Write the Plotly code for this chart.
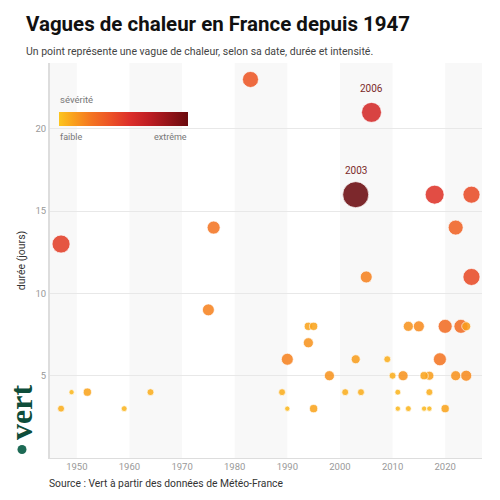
import numpy as np
import plotly.graph_objects as go

annees = [1947, 1947, 1949, 1952, 1959, 1964, 1975, 1976, 1983, 1989, 1990, 1990,
          1994, 1994, 1995, 1995, 1998, 2001, 2003, 2003, 2004, 2005, 2006, 2009,
          2010, 2011, 2011, 2012, 2013, 2013, 2015, 2016, 2016, 2017, 2017, 2017,
          2018, 2019, 2020, 2020, 2022, 2022, 2023, 2024, 2024, 2025, 2025]
durees = [13, 3, 4, 4, 3, 4, 9, 14, 23, 4, 6, 3,
          7, 8, 8, 3, 5, 4, 6, 16, 4, 11, 21, 6,
          5, 4, 3, 5, 3, 8, 8, 5, 3, 5, 4, 3,
          16, 6, 8, 3, 14, 5, 8, 8, 5, 16, 11]
severite = [48, 7, 4, 10, 5, 7, 21, 25, 38, 7, 21, 4,
            15, 10, 10, 10, 15, 7, 12, 100, 7, 21, 59, 7,
            7, 5, 4, 15, 5, 15, 18, 10, 4, 12, 7, 4,
            53, 25, 29, 10, 33, 15, 29, 12, 18, 43, 43]

annotes = [(2003, 16, "2003"), (2006, 21, "2006")]
decennies_grises = [1940, 1960, 1980, 2000, 2020]
x_ticks = [1950, 1960, 1970, 1980, 1990, 2000, 2010, 2020]
y_ticks = [5, 10, 15, 20]

colorscale = [[0.0, "#fcc51f"], [0.1, "#faa41c"], [0.25, "#f47522"],
              [0.4, "#ec5226"], [0.55, "#dc2e2a"], [0.7, "#be1d23"], [1.0, "#6a0a0e"]]

order = np.argsort(-np.array(severite), kind="stable")
xs = np.array(annees)[order]
ys = np.array(durees)[order]
ss = np.array(severite)[order]

W, H = 500, 500
ML, MR, MT, MB = 50, 18, 63, 42
L, R, T, B = ML, W - MR, MT, H - MB
def px(x):
    return (x - L) / (R - L)
def py(y):
    return (B - y) / (B - T)

XR = [1944.9, 2027]

fig = go.Figure()
fig.add_trace(go.Scatter(
    x=xs, y=ys, mode="markers",
    marker=dict(size=ss, sizemode="area", sizeref=0.296, sizemin=2.5,
                color=ss, cmin=0, cmax=100, colorscale=colorscale,
                opacity=0.87, line=dict(width=1, color="rgba(255,255,255,0.7)"),
                showscale=True,
                colorbar=dict(orientation="h", lenmode="pixels", len=129,
                              thickness=14, x=px(59), xanchor="left",
                              y=py(112), yanchor="top", xpad=0, ypad=0,
                              outlinewidth=0, showticklabels=False, ticks="")),
    hoverinfo="skip", showlegend=False))

shapes = []
for d in decennies_grises:
    shapes.append(dict(type="rect", xref="x", yref="paper",
                       x0=max(d, XR[0]), x1=min(d + 10, XR[1]), y0=0, y1=1,
                       fillcolor="#f8f8f8", line=dict(width=0), layer="below"))
# logo dot
shapes.append(dict(type="circle", xref="paper", yref="paper",
                   x0=px(17.5), x1=px(26.5), y0=py(454), y1=py(445),
                   fillcolor="#1d6a55", line=dict(width=0)))

annotations = [
    dict(text="<b>Vagues de chaleur en France depuis 1947</b>", xref="paper", yref="paper",
         x=px(24), y=py(24), xanchor="left", yanchor="middle", showarrow=False,
         font=dict(family="Roboto", size=20.5, color="#111111")),
    dict(text="Un point représente une vague de chaleur, selon sa date, durée et intensité.",
         xref="paper", yref="paper", x=px(24), y=py(51), xanchor="left", yanchor="middle",
         showarrow=False, font=dict(family="Roboto", size=10.5, color="#444444")),
    dict(text="Source : Vert à partir des données de Météo-France", xref="paper", yref="paper",
         x=px(47), y=py(484), xanchor="left", yanchor="middle", showarrow=False,
         font=dict(family="Roboto", size=10.3, color="#333333")),
    dict(text="sévérité", xref="paper", yref="paper", x=px(58), y=py(99),
         xanchor="left", yanchor="middle", showarrow=False,
         font=dict(family="Roboto", size=9.5, color="#777777")),
    dict(text="faible", xref="paper", yref="paper", x=px(58), y=py(137),
         xanchor="left", yanchor="middle", showarrow=False,
         font=dict(family="Roboto", size=9, color="#777777")),
    dict(text="extrême", xref="paper", yref="paper", x=px(189), y=py(137),
         xanchor="right", yanchor="middle", showarrow=False,
         font=dict(family="Roboto", size=9, color="#777777")),
    dict(text="<b>vert</b>", xref="paper", yref="paper", x=px(21), y=py(412),
         xanchor="center", yanchor="middle", textangle=-90, showarrow=False,
         font=dict(family="Liberation Serif", size=32, color="#0e4d3a")),
]
for ax_, ay_, t in annotes:
    annotations.append(dict(text=t, x=ax_, y=ay_, xref="x", yref="y", showarrow=False,
                            yshift=24, font=dict(family="Roboto", size=10, color="#7b2a2a")))

fig.update_layout(
    width=W, height=H, margin=dict(l=ML, r=MR, t=MT, b=MB),
    paper_bgcolor="white", plot_bgcolor="white",
    font=dict(family="Roboto"),
    shapes=shapes, annotations=annotations,
    xaxis=dict(range=XR, tickvals=x_ticks, showgrid=False, zeroline=False,
               showline=True, linecolor="#dddddd", linewidth=1, ticks="",
               tickfont=dict(size=9.5, color="#999999")),
    yaxis=dict(range=[0, 24], tickvals=y_ticks, showgrid=True, gridcolor="#e8e8e8",
               zeroline=False, showline=True, linecolor="#dddddd", linewidth=2, ticks="",
               tickfont=dict(size=9.5, color="#999999"),
               title=dict(text="durée (jours)", font=dict(size=10.5, color="#333333"), standoff=8)),
)

fig.write_html("out.html")
